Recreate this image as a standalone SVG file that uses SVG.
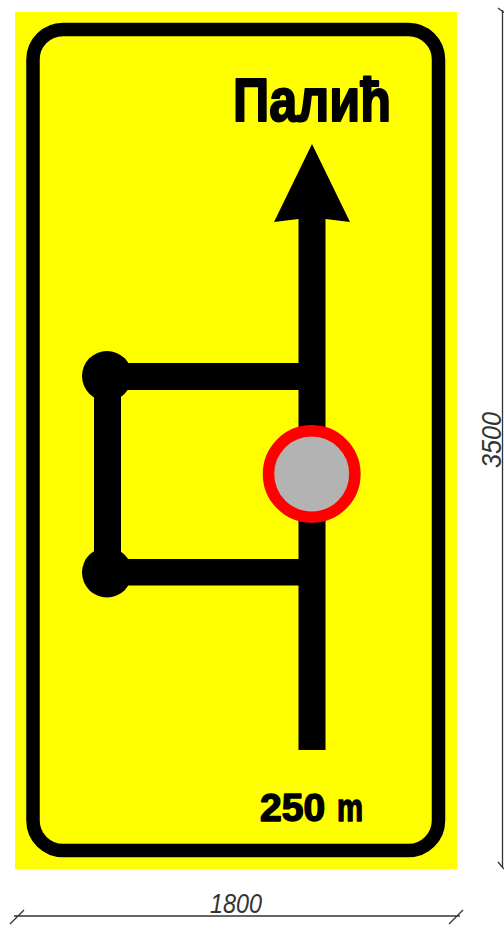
<svg xmlns="http://www.w3.org/2000/svg" width="504" height="925" viewBox="0 0 504 925">
<style>
.sign{font-family:"Liberation Sans",Arial,sans-serif;font-weight:700;fill:#000;stroke:#000;stroke-linejoin:round}
.dim{font-family:"Liberation Sans",Arial,sans-serif;font-style:italic;font-size:28px;fill:#333}
.dl{stroke:#333;stroke-width:1.3;fill:none}
.road{fill:#000}
</style>
<rect width="504" height="925" fill="#fff"/>
<g id="sign-panel">
<rect x="15" y="12" width="442" height="857" fill="#ff0"/>
<rect x="33" y="29.500" width="405.500" height="821" rx="30" ry="30" fill="none" stroke="#000" stroke-width="13.500"/>
</g>
<g id="connectors">
<path class="road" d="M298.500 750V219L274 222L312 144L350 222L325.500 219V750Z"/>
<rect class="road" x="108" y="363" width="191" height="27"/>
<rect class="road" x="108" y="559" width="191" height="26.500"/>
<rect class="road" x="94" y="376" width="27" height="196"/>
</g>
<g id="junction-top"><circle cx="107" cy="376" r="25" fill="#000"/></g>
<g id="junction-bottom"><circle cx="107" cy="572.500" r="25" fill="#000"/></g>
<g id="restriction"><circle cx="311.700" cy="474" r="43.200" fill="#b3b3b3" stroke="#f00" stroke-width="11.500"/></g>
<g id="label-destination"><text class="sign" x="233" y="121" font-size="61" stroke-width="2" textLength="158" lengthAdjust="spacingAndGlyphs">Палић</text></g>
<g id="label-distance"><text class="sign" x="260" y="821" font-size="39" stroke-width="1.500">250 <tspan x="337" textLength="26" lengthAdjust="spacingAndGlyphs">m</tspan></text></g>
<g id="dimension-width">
<path class="dl" d="M14 916H460M10 924L24 910M449 924L463 910"/>
<text class="dim" x="210" y="913" textLength="52" lengthAdjust="spacingAndGlyphs">1800</text>
</g>
<g id="dimension-height">
<path class="dl" d="M502.500 10V868M498 8L506 14M498 862L504 869"/>
<text class="dim" transform="translate(501 468) rotate(-90)" textLength="56" lengthAdjust="spacingAndGlyphs">3500</text>
</g>
</svg>
